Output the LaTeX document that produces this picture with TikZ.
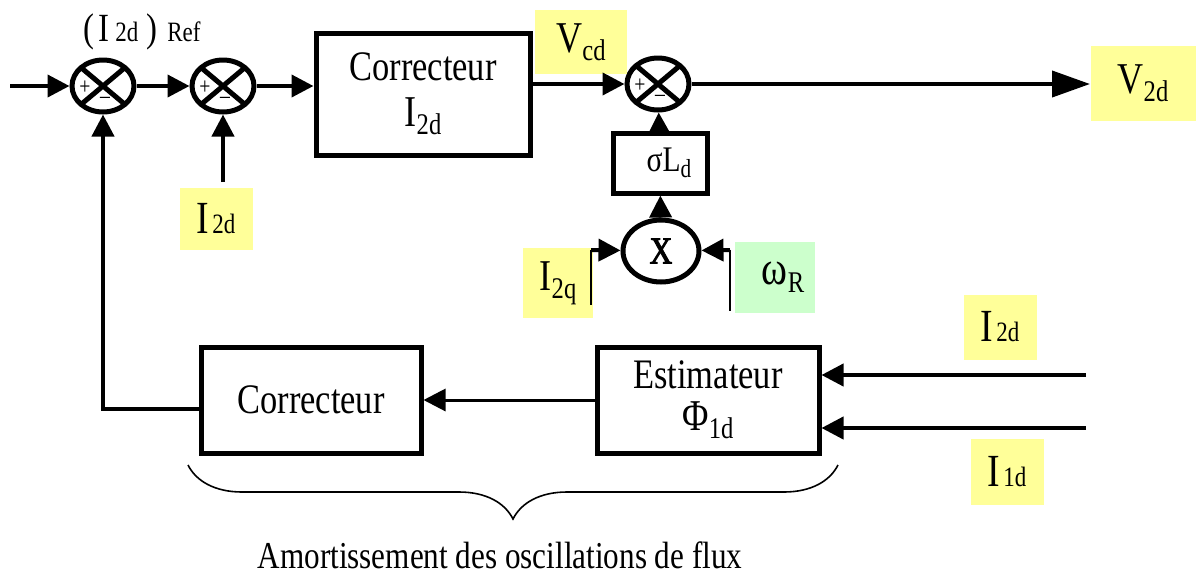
\documentclass[tikz,border=0pt]{standalone}
\usepackage{fontspec}
\setmainfont{Liberation Serif}[FakeStretch=0.82]
\newfontfamily\heavyface{Liberation Serif}[FakeStretch=0.82, FakeBold=2.5]
\usetikzlibrary{arrows.meta, positioning, shapes.geometric, decorations.pathreplacing}
\definecolor{TagYellow}{RGB}{255,255,153}
\definecolor{TagGreen}{RGB}{204,255,204}
\newcommand{\setfs}[1]{\fontsize{#1}{#1}\selectfont}
\newcommand{\varsub}[2]{{\setfs{22}#1}\raisebox{-4pt}{\setfs{15}#2}}
\newcommand{\flatsub}[2]{{\setfs{23}#1}\,{\setfs{14}#2}}

\begin{document}
\begin{tikzpicture}[
    x=0.5pt, y=-0.5pt,
    block/.style={draw, line width=2.5pt, inner sep=0pt, align=center, font=\setfs{21}},
    sum/.style={ellipse, draw, line width=2.5pt, inner sep=0pt, minimum width=31pt, minimum height=26pt,
        path picture={
            \draw[line width=2.5pt] (path picture bounding box.north west) -- (path picture bounding box.south east)
                (path picture bounding box.north east) -- (path picture bounding box.south west);
            \node[font=\setfs{12}, inner sep=0pt] at ([xshift=-9pt, yshift=-1pt]path picture bounding box.center) {+};
            \node[font=\setfs{12}, inner sep=0pt] at ([xshift=1pt, yshift=-7pt]path picture bounding box.center) {--};
        }},
    tag/.style={fill=TagYellow, inner sep=0pt},
    wire/.style={line width=2pt, -{Triangle[length=11pt, width=11pt]}}
]
\useasboundingbox (0,0) rectangle (1196,574);

% Summing points
\node[sum] (sumA) at (103,86) {};
\node[sum] (sumB) at (223,86) {};
\node[sum] (sumC) at (658,84) {};

% Blocks
\node[block, minimum width=107pt, minimum height=61pt] (corrI) at (423,94) {Correcteur\\[2pt]\varsub{I}{2d}};
\node[block, minimum width=47pt, minimum height=30pt] (sigL) at (660,163) {\hspace*{9pt}{\setfs{18}σL}\raisebox{-3pt}{\setfs{13}d}};
\node[ellipse, draw, line width=2.5pt, inner sep=0pt, minimum width=38pt, minimum height=31pt, font=\heavyface\setfs{19}] (mulX) at (661,251) {X};
\node[block, minimum width=110pt, minimum height=53pt] (corr) at (311,400) {Correcteur};
\node[block, minimum width=111pt, minimum height=53pt] (estim) at (708,400) {Estimateur\\\varsub{Φ}{1d}};

% Labels
\node (tagRef) at (142,32) {{\setfs{20}(\hspace{2pt}I}\hspace{3pt}{\setfs{14}2d}\hspace{4pt}{\setfs{20})}\hspace{5pt}{\setfs{14}Ref}};
\node[tag, minimum width=46pt, minimum height=32pt] (tagVcd) at (581,42) {\varsub{V}{cd}};
\node[tag, minimum width=36.5pt, minimum height=31pt] (tagIa) at (216,219) {\flatsub{I}{2d}};
\node[tag, minimum width=52.5pt, minimum height=37.5pt] (tagV) at (1143,83) {\varsub{V}{2d}};
\node[tag, minimum width=35pt, minimum height=35pt] (tagIq) at (558,283) {\varsub{I}{2q}};
\node[tag, fill=TagGreen, minimum width=40pt, minimum height=35.5pt] (tagW) at (775,277) {\hspace*{8pt}{\setfs{24}ω}\raisebox{-4pt}{\setfs{15}R}};
\node[tag, minimum width=36.5pt, minimum height=32.5pt] (tagIb) at (1000,327) {\flatsub{I}{2d}};
\node[tag, minimum width=36.5pt, minimum height=33pt] (tagIc) at (1007,472) {\flatsub{I}{1d}};
\node[font=\setfs{19}] (caption) at (500,555) {Amortissement des oscillations de flux};

% Free ends
\coordinate (in) at (10,86);
\coordinate (out) at (1090,84);
\coordinate (iTop) at (223,182);
\coordinate (fbTurn) at (103,409);
\coordinate (qTop) at (591,250);
\coordinate (qBot) at (591,305);
\coordinate (wTop) at (730,250);
\coordinate (wBot) at (730,311);
\coordinate (inA) at (1086,375);
\coordinate (inB) at (1086,428);
\coordinate (braceL) at (188,465);
\coordinate (braceR) at (838,465);

% Forward path
\draw[wire] (in) -- (sumA);
\draw[wire] (sumA) -- (sumB);
\draw[wire] (sumB) -- (corrI.west |- sumB);
\draw[wire] (corrI.east |- sumC) -- (sumC);
\draw[wire, -{Triangle[length=19pt, width=13pt]}] (sumC) -- (out);
\draw[wire] (iTop) -- (sumB);

% Decoupling term
\draw[wire] (sigL) -- (sumC);
\draw[wire] (mulX) -- (sigL);
\draw[line width=0.6pt] (qTop) -- (qBot);
\draw[line width=0.6pt] (wTop) -- (wBot);
\draw[wire] (qTop) -- (mulX);
\draw[wire] (wTop) -- (mulX);

% Flux damping loop
\draw[wire] (inA) -- (estim.east |- inA);
\draw[wire] (inB) -- (estim.east |- inB);
\draw[wire, line width=1.5pt] (estim) -- (corr);
\draw[wire] (corr.west |- fbTurn) -- (fbTurn) -- (sumA);
\draw[decorate, decoration={brace, mirror, amplitude=27pt}, line width=0.8pt] (braceL) -- (braceR);

\end{tikzpicture}
\end{document}
